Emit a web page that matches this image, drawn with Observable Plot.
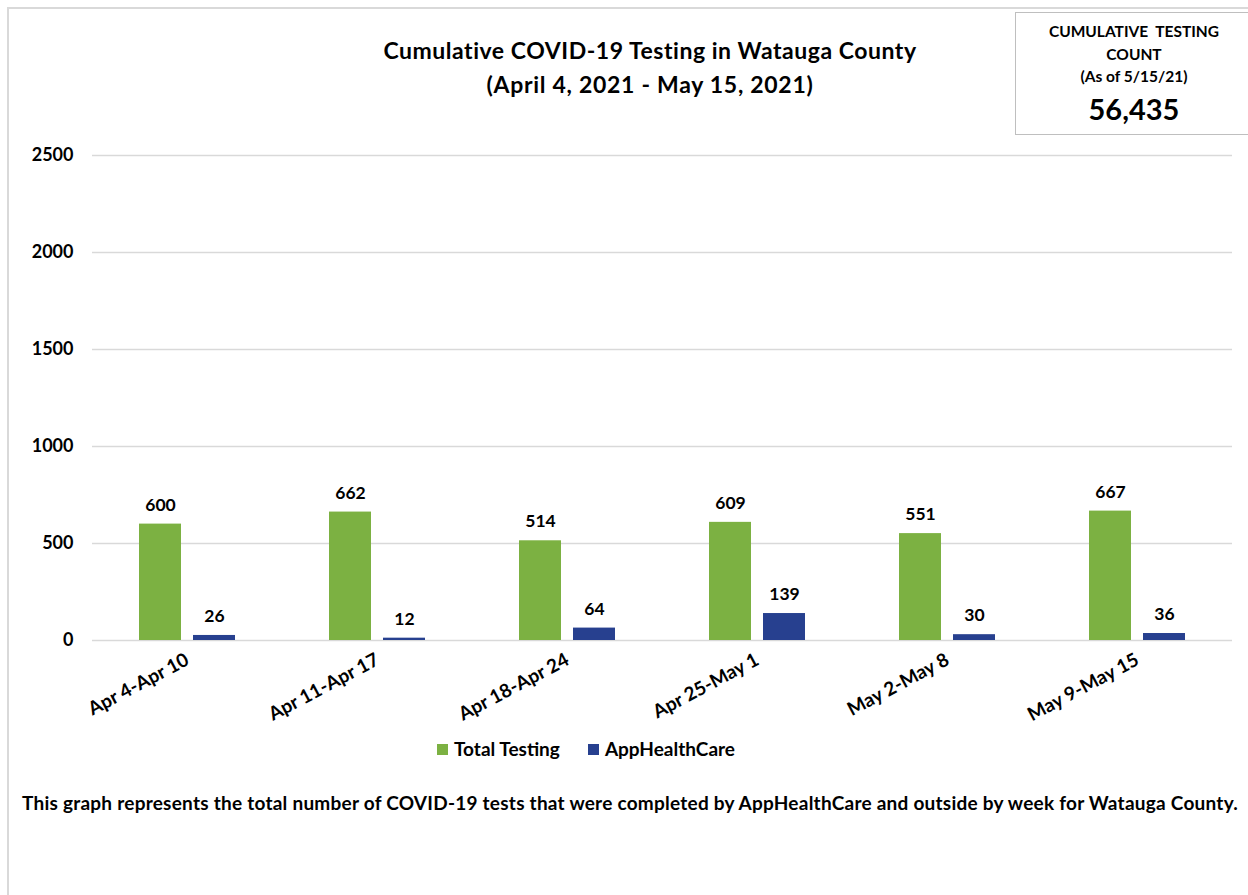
<!DOCTYPE html>
<html>
<head>
<meta charset="utf-8">
<script src="https://cdn.jsdelivr.net/npm/d3@7"></script>
<script src="https://cdn.jsdelivr.net/npm/@observablehq/plot@0.6"></script>
<style>
  html, body { margin: 0; padding: 0; background: #fff; }
  #wrap { position: relative; width: 1248px; height: 895px; overflow: hidden; font-family: Lato, "Open Sans", sans-serif; color: #000; }
  #frame { position: absolute; left: 7px; top: 7px; width: 1260px; height: 920px; border-left: 2px solid #d9d9d9; border-top: 2px solid #d9d9d9; }
  #chart { position: absolute; left: 0; top: 0; }
  .title { position: absolute; font-weight: bold; font-size: 23px; white-space: nowrap; }
  #box { position: absolute; left: 1015px; top: 12px; width: 260px; height: 123px; border: 1.5px solid #bfbfbf; box-sizing: border-box; background: #fff; }
  #box div { position: absolute; width: 236px; text-align: center; font-weight: bold; }
  #legend { position: absolute; top: 737px; left: 0; width: 1172px; text-align: center; font-weight: bold; font-size: 19px; }
  #legend span.sw { display: inline-block; width: 11px; height: 11px; margin-right: 6px; vertical-align: 1px; }
  #legend span.it { margin: 0 14px; }
  #footer { position: absolute; top: 791px; left: 22px; font-weight: bold; font-size: 19px; white-space: nowrap; }
</style>
</head>
<body>
<div id="wrap">
  <div id="frame"></div>
  <div id="chart"></div>
  <div class="title" id="t1" style="top:36px;">Cumulative COVID-19 Testing in Watauga County</div>
  <div class="title" id="t2" style="top:70px;">(April 4, 2021 - May 15, 2021)</div>
  <div id="box">
    <div style="top:9px;font-size:15.5px;">CUMULATIVE&nbsp; TESTING</div>
    <div style="top:32px;font-size:15.5px;">COUNT</div>
    <div style="top:54px;font-size:15.5px;">(As of 5/15/21)</div>
    <div style="top:78px;font-size:29px;">56,435</div>
  </div>
  <div id="legend"></div>
  <div id="footer">This graph represents the total number of COVID-19 tests that were completed by AppHealthCare and outside by week for Watauga County.</div>
</div>
<script>
const weeks = ["Apr 4-Apr 10", "Apr 11-Apr 17", "Apr 18-Apr 24", "Apr 25-May 1", "May 2-May 8", "May 9-May 15"];
const series = ["Total Testing", "AppHealthCare"];
const totalTesting = [600, 662, 514, 609, 551, 667];
const appHealthCare = [26, 12, 64, 139, 30, 36];
const colors = ["#7cb142", "#27408f"];
const yTicks = [0, 500, 1000, 1500, 2000, 2500];

const data = [];
weeks.forEach((w, i) => {
  data.push({week: w, series: series[0], value: totalTesting[i]});
  data.push({week: w, series: series[1], value: appHealthCare[i]});
});

const chart = Plot.plot({
  width: 1248,
  height: 760,
  marginTop: 155,
  marginBottom: 120,
  marginLeft: 90,
  marginRight: 14,
  style: {fontFamily: "Lato, 'Open Sans', sans-serif", fontWeight: "bold", fontSize: "16px", color: "#000", background: "transparent"},
  fx: {domain: weeks, padding: 0, label: null, axis: null},
  x: {domain: series, paddingInner: 0.218, paddingOuter: 0.845, axis: null},
  y: {domain: [0, 2500], ticks: yTicks, label: null, axis: null},
  color: {domain: series, range: colors},
  marks: [
    Plot.ruleY(yTicks, {stroke: "#d9d9d9", strokeWidth: 1.3}),
    Plot.barY(data, {fx: "week", x: "series", y: "value", fill: "series"}),
    Plot.text(data, {fx: "week", x: "series", y: "value", text: d => String(d.value), dy: -19, fontSize: 17.5, fontWeight: "bold", fill: "#000"}),
    Plot.axisY({ticks: yTicks, tickSize: 0, tickPadding: 19, fontSize: 18, fontWeight: "bold", label: null, tickFormat: d => String(d)}),
    Plot.axisFx({anchor: "bottom", tickRotate: -28, tickSize: 0, tickPadding: 18, fontSize: 19, fontWeight: "bold", label: null})
  ]
});
document.getElementById("chart").appendChild(chart);

const legend = document.getElementById("legend");
series.forEach((s, i) => {
  const it = document.createElement("span");
  it.className = "it";
  const sw = document.createElement("span");
  sw.className = "sw";
  sw.style.background = colors[i];
  it.appendChild(sw);
  it.appendChild(document.createTextNode(s));
  legend.appendChild(it);
});

// fit text spans to the reference widths via letter-spacing
function fit(el, targetWidth, centerX) {
  const n = el.textContent.length;
  const w = el.getBoundingClientRect().width;
  el.style.letterSpacing = ((targetWidth - w) / n) + "px";
  const w2 = el.getBoundingClientRect().width;
  if (centerX != null) el.style.left = (centerX - w2 / 2) + "px";
}
fit(document.getElementById("t1"), 534, 650);
fit(document.getElementById("t2"), 327, 650);
fit(document.getElementById("footer"), 1216, null);
</script>
</body>
</html>
